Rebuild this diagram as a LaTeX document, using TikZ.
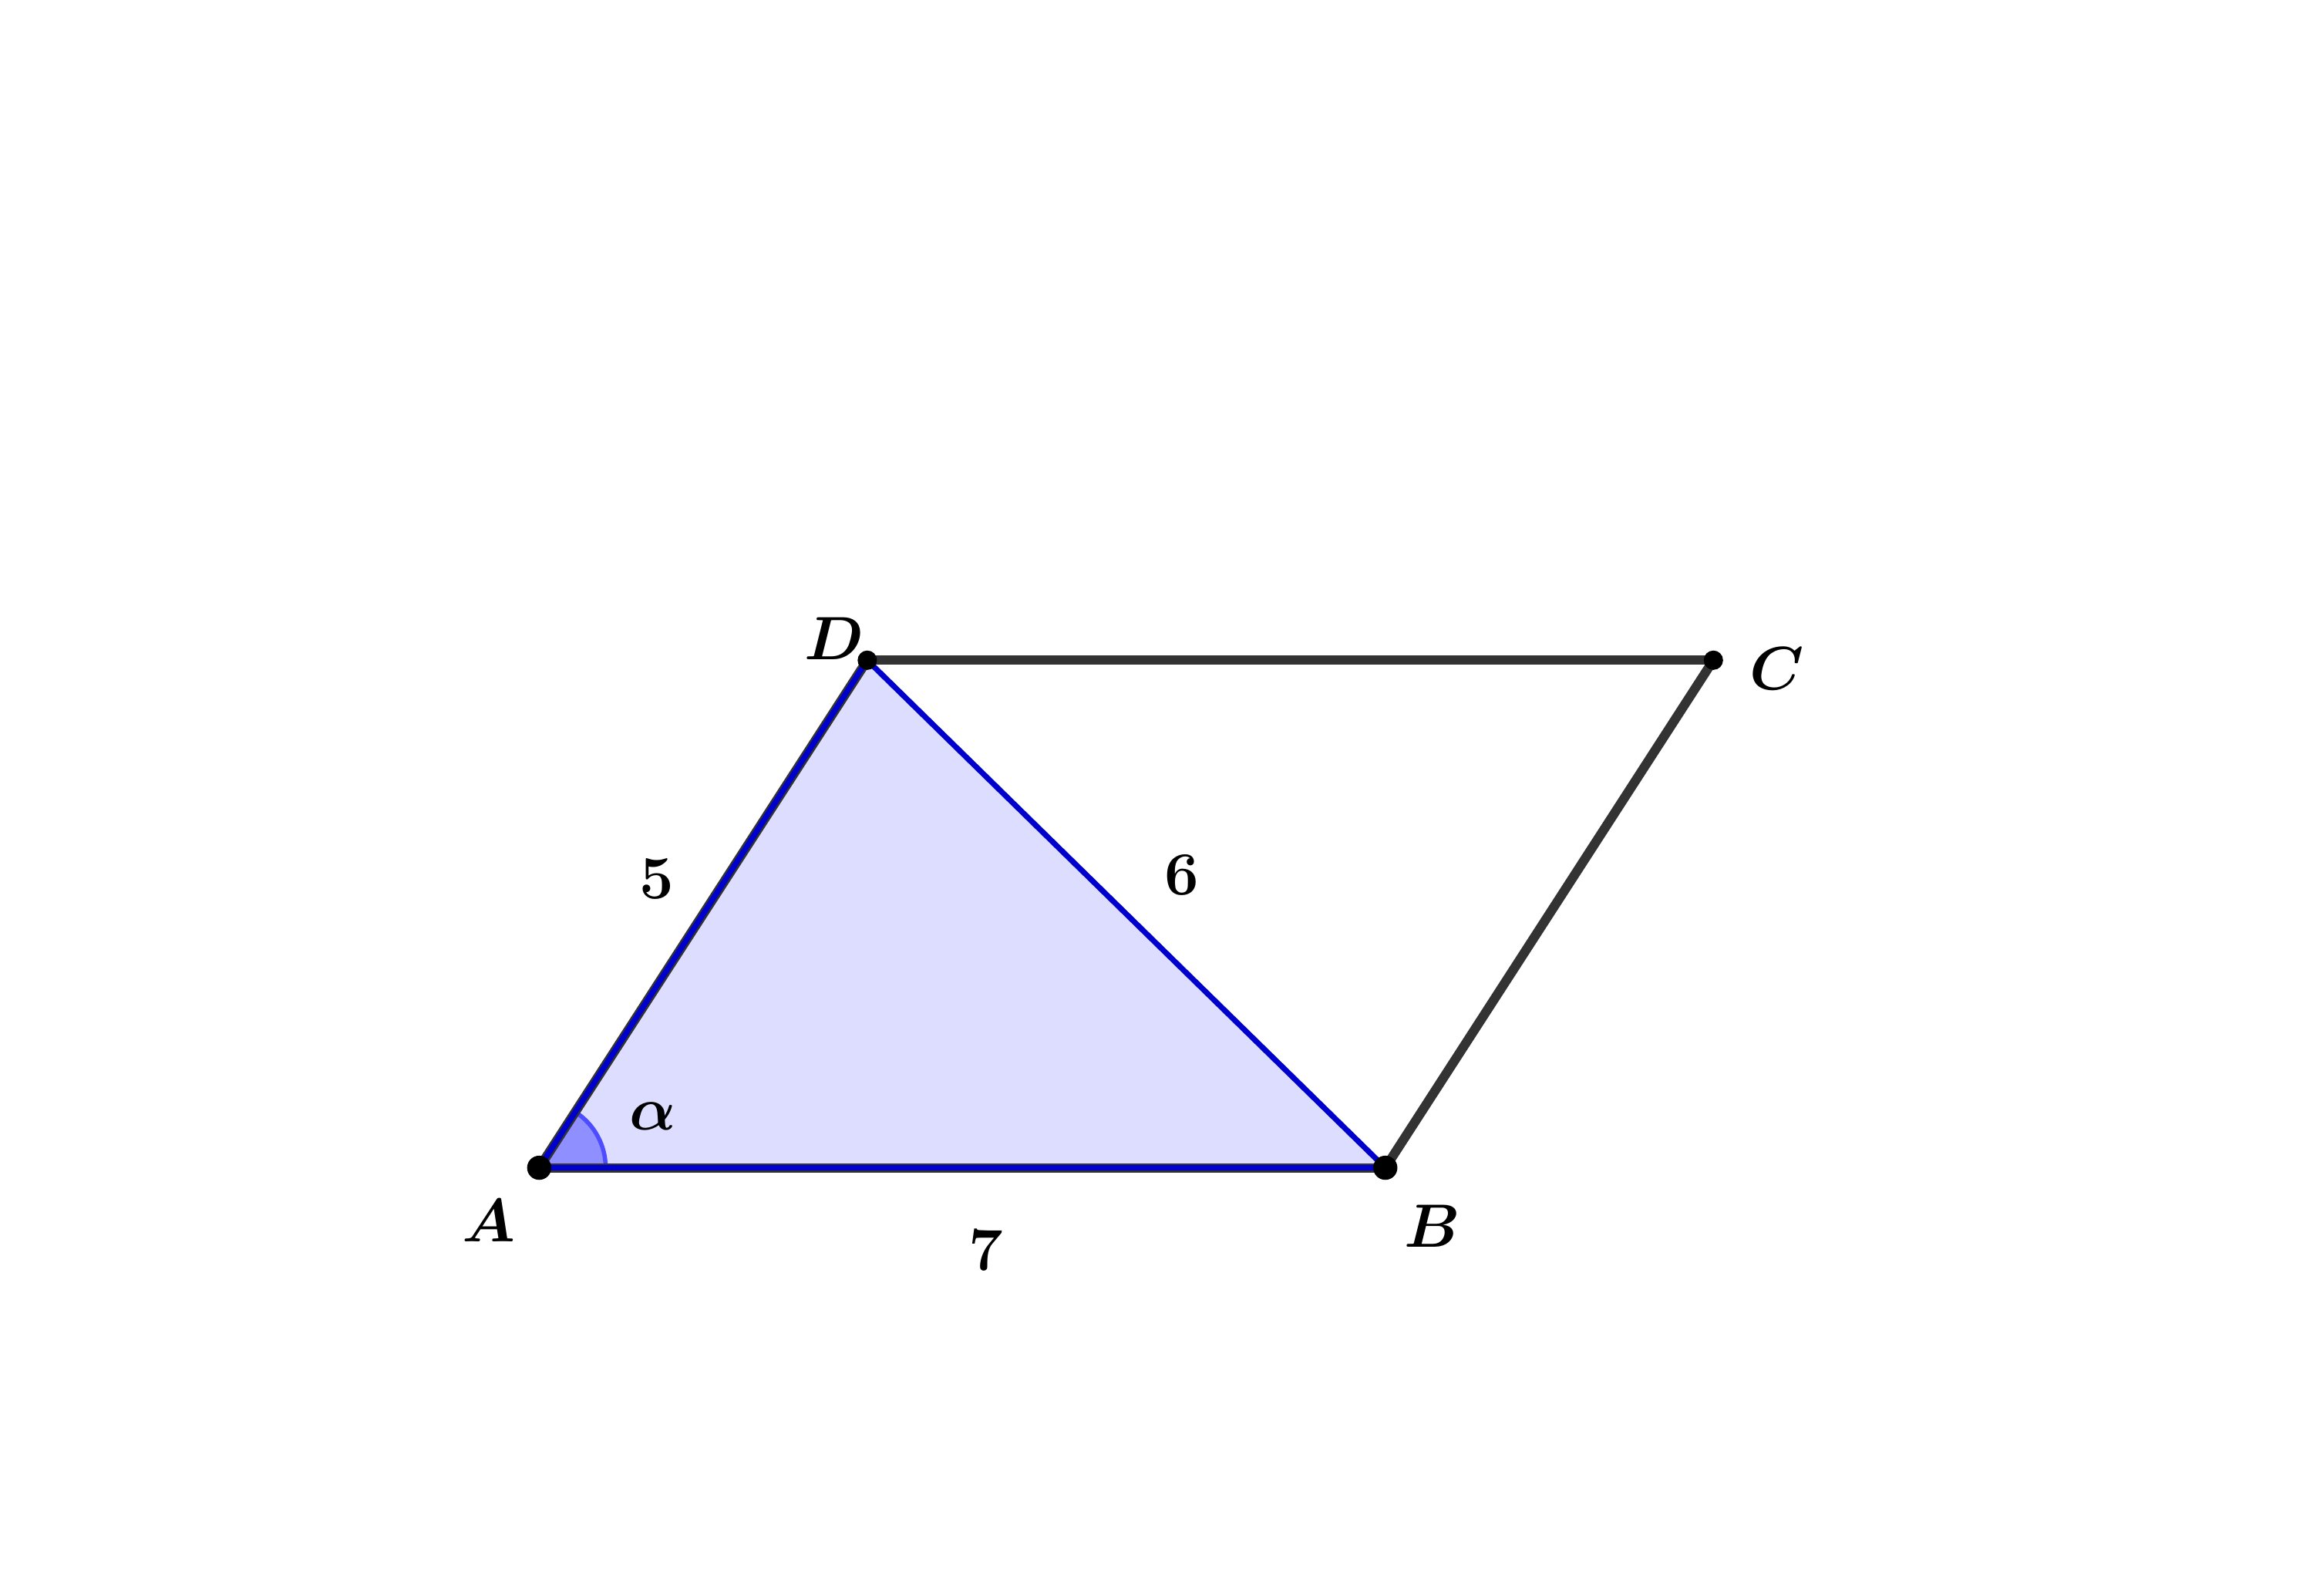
\documentclass[tikz,border=0pt]{standalone}
\usepackage{amsmath,bm}
\begin{document}
\begin{tikzpicture}[
  seg/.style={draw=segGray, line width=2.2pt},
  tri/.style={draw=triBlue, line width=1.3pt},
  lbl/.style={font=\fontsize{13.5}{16}\selectfont, inner sep=0pt},
  bigdot/.style={fill=black, circle, inner sep=0pt, minimum size=0.2cm},
  smalldot/.style={fill=black, circle, inner sep=0pt, minimum size=0.16cm}
]
\definecolor{segGray}{RGB}{51,51,51}
\definecolor{triBlue}{RGB}{0,0,204}
\definecolor{triFill}{RGB}{221,221,255}
\definecolor{angFill}{RGB}{143,143,255}
\definecolor{angLine}{RGB}{77,77,255}
\useasboundingbox (-4.461,-3.537) rectangle (14.675,9.661);
\coordinate (A) at (0,0);
\coordinate (B) at (7,0);
\coordinate (D) at (2.7143,4.1991);
\coordinate (C) at (9.7143,4.1991);
% triangle fill
\fill[triFill] (A) -- (B) -- (D) -- cycle;
% angle sector
\fill[angFill] (A) -- (0.55,0) arc[start angle=0, end angle=57.12, radius=0.55] -- cycle;
\draw[angLine, line width=1pt] (0.55,0) arc[start angle=0, end angle=57.12, radius=0.55];
% parallelogram sides
\draw[seg] (D) -- (C);
\draw[seg] (C) -- (B);
\draw[seg] (A) -- (B);
\draw[seg] (A) -- (D);
% triangle edges
\draw[tri] (A) -- (B) -- (D) -- cycle;
% points
\node[bigdot] (pA) at (A) {};
\node[bigdot] (pB) at (B) {};
\node[smalldot] (pC) at (C) {};
\node[smalldot] (pD) at (D) {};
% labels
\node[lbl] (lA) at (-0.42,-0.44) {$\bm{A}$};
\node[lbl] (lB) at (7.39,-0.48) {$\bm{B}$};
\node[lbl] (lC) at (10.24,4.13) {$\bm{C}$};
\node[lbl] (lD) at (2.44,4.38) {$\bm{D}$};
\node[lbl] (l5) at (0.974,2.389) {$\mathbf{5}$};
\node[lbl] (l6) at (5.318,2.421) {$\mathbf{6}$};
\node[lbl] (l7) at (3.698,-0.686) {$\mathbf{7}$};
\node[lbl] (la) at (0.942,0.424) {$\bm{\alpha}$};
\end{tikzpicture}
\end{document}
